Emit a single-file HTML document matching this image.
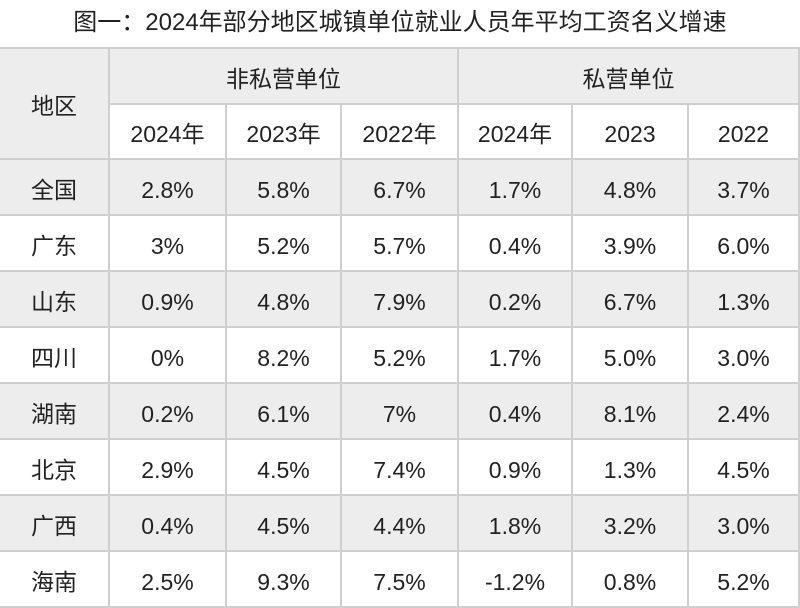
<!DOCTYPE html>
<html><head><meta charset="utf-8"><style>
body{margin:0;width:800px;height:602px;background:#fff;overflow:hidden;position:relative;font-family:"Liberation Sans","Noto Sans CJK SC",sans-serif;color:#222}
.t{position:absolute;top:8px;left:0;width:800px;text-align:center;font-size:24px;line-height:30px}
.c{position:absolute;box-sizing:border-box;display:flex;align-items:center;justify-content:center;font-size:23px;line-height:23px;padding-top:6px;border-right:2px solid #cfcfcf;border-bottom:2px solid #cfcfcf}
.g{background:#ededed}
</style></head><body>
<div class="t">图一：2024年部分地区城镇单位就业人员年平均工资名义增速</div>
<div style="position:absolute;left:0;top:47px;width:800px;height:2px;background:#cfcfcf"></div>
<div id="tb"></div>
<script>
var xs=[0,110,227,342,459,573,689,800];
var tb=document.getElementById('tb');
function cell(x1,x2,y1,y2,txt,g){var d=document.createElement('div');d.className='c'+(g?' g':'');d.style.left=x1+'px';d.style.top=y1+'px';d.style.width=(x2-x1)+'px';d.style.height=(y2-y1)+'px';d.textContent=txt;tb.appendChild(d);}
cell(0,110,49,160,'地区',1);
cell(110,459,49,105,'非私营单位',1);
cell(459,800,49,105,'私营单位',1);
var hd=['2024年','2023年','2022年','2024年','2023','2022'];
for(var i=0;i<6;i++)cell(xs[i+1],xs[i+2],105,160,hd[i],0);
var rows=[['全国','2.8%','5.8%','6.7%','1.7%','4.8%','3.7%'],['广东','3%','5.2%','5.7%','0.4%','3.9%','6.0%'],['山东','0.9%','4.8%','7.9%','0.2%','6.7%','1.3%'],['四川','0%','8.2%','5.2%','1.7%','5.0%','3.0%'],['湖南','0.2%','6.1%','7%','0.4%','8.1%','2.4%'],['北京','2.9%','4.5%','7.4%','0.9%','1.3%','4.5%'],['广西','0.4%','4.5%','4.4%','1.8%','3.2%','3.0%'],['海南','2.5%','9.3%','7.5%','-1.2%','0.8%','5.2%']];
for(var r=0;r<8;r++){var y=160+r*56;for(var j=0;j<7;j++)cell(xs[j],xs[j+1],y,y+56,rows[r][j],r%2==0);}
</script>
</body></html>
